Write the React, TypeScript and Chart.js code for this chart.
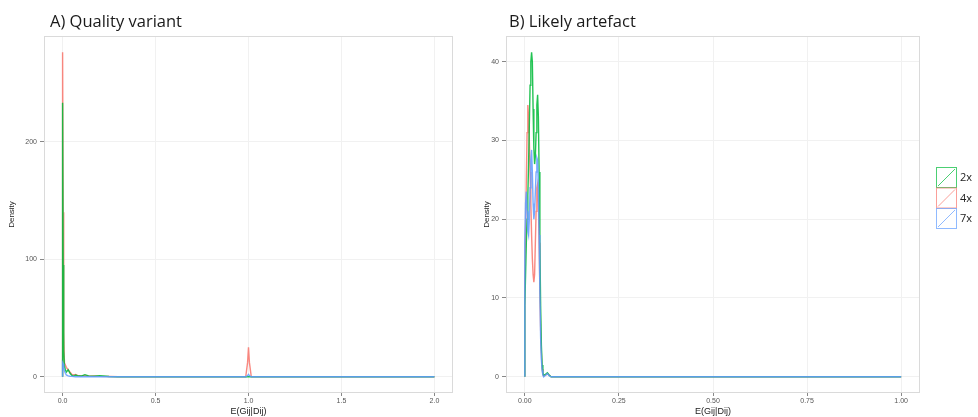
import React, { useEffect, useRef } from "react";
import { Chart, registerables } from "chart.js";

Chart.register(...registerables);

// ---------- data ----------
const seriesNames = ["2x", "4x", "7x"];
const seriesColors = ["#00BA38", "#F8766D", "#619CFF"];
const drawOrder = [1, 2, 0]; // lower = drawn on top (blue top, red bottom)

// Panel A: Quality variant
const titleA = "A) Quality variant";
const xA = [0, 0, 0.003, 0.006, 0.01, 0.015, 0.02, 0.03, 0.04, 0.05, 0.06, 0.07, 0.08, 0.1, 0.12, 0.14, 0.17, 0.2, 0.25, 0.3, 0.5, 0.985, 0.995, 1.0, 1.005, 1.015, 1.5, 2.0];
const a2x = [0, 233, 95, 22, 9, 6, 4, 6, 3, 1.2, 0.6, 1.5, 1, 0.6, 1.8, 0.8, 0.4, 1, 0.2, 0, 0, 0, 0, 0, 0, 0, 0, 0];
const a4x = [0, 276, 140, 38, 12, 10, 8, 6, 4, 2, 1.5, 2, 1.2, 0.8, 1.2, 0.5, 0.8, 0.5, 0.2, 0, 0, 0, 12, 25, 12, 0, 0, 0];
const a7x = [0, 12, 11, 8, 5, 3, 1.5, 0.8, 0.5, 0.3, 0.2, 0, 0, 0, 0, 0, 0, 0, 0, 0, 0, 0, 1, 2, 1, 0, 0, 0];
const xTicksA = [0, 0.5, 1, 1.5, 2];
const yTicksA = [0, 100, 200];

// Panel B: Likely artefact
const titleB = "B) Likely artefact";
const xB = [0, 0, 0.002, 0.004, 0.006, 0.008, 0.01, 0.012, 0.014, 0.016, 0.018, 0.02, 0.022, 0.024, 0.026, 0.028, 0.03, 0.032, 0.034, 0.036, 0.038, 0.04, 0.042, 0.044, 0.046, 0.048, 0.05, 0.055, 0.06, 0.065, 0.07, 0.1, 0.5, 1.0];
const b2x = [0, 9, 13, 17, 20, 23, 27, 32, 37, 40, 41.2, 40, 34, 29, 27, 28, 31, 34.5, 35.8, 33, 26, 17, 9, 4, 1.5, 0.5, 0.2, 0.3, 0.5, 0.2, 0, 0, 0, 0];
const b4x = [0, 12, 18, 25, 31, 34.5, 33, 30, 26, 22, 18, 15, 13, 12, 13, 17, 21, 24, 24.5, 22, 17, 11, 6, 3, 1, 0.3, 0.1, 0.2, 0.4, 0.2, 0, 0, 0, 0];
const b7x = [0, 17, 22, 23.5, 21, 18.5, 18, 20, 24, 27.5, 28.8, 26, 22, 20, 21, 23.5, 26, 27.8, 27.5, 24, 18, 11, 5, 2.2, 0.8, 0.2, 0, 0.2, 0.4, 0.1, 0, 0, 0, 0];
const xTicksB = [0, 0.25, 0.5, 0.75, 1];
const yTicksB = [0, 10, 20, 30, 40];

const xLabel = "E(Gij|Dij)";
const yLabel = "Density";

// ---------- plugins ----------
const panelPlugin = {
  id: "panelDeco",
  beforeDatasetsDraw(chart: any) {
    const { ctx, chartArea: a } = chart;
    ctx.save();
    ctx.strokeStyle = "#dadada";
    ctx.lineWidth = 1;
    ctx.strokeRect(Math.round(a.left) + 0.5, Math.round(a.top) + 0.5, Math.round(a.right - a.left) - 1, Math.round(a.bottom - a.top) - 1);
    ctx.restore();
  },
  afterDraw(chart: any, _args: any, opts: any) {
    const { ctx, chartArea: a } = chart;
    ctx.save();
    if (opts.title) {
      ctx.fillStyle = "#1a1a1a";
      ctx.font = "16.5px 'Open Sans', sans-serif";
      ctx.textBaseline = "middle";
      ctx.textAlign = "left";
      ctx.fillText(opts.title, a.left + opts.titleDx, 22);
    }
    if (opts.legend) {
      const x0 = a.right + 16;
      const box = 20;
      const step = 20.5;
      const y0 = 167;
      seriesNames.forEach((name, i) => {
        const y = y0 + i * step;
        ctx.globalAlpha = 0.7;
        ctx.strokeStyle = seriesColors[i];
        ctx.lineWidth = 1;
        ctx.strokeRect(x0 + 0.5, y + 0.5, box, box);
        ctx.beginPath();
        ctx.moveTo(x0 + 2, y + box - 1);
        ctx.lineTo(x0 + box - 1, y + 2);
        ctx.stroke();
        ctx.globalAlpha = 1;
        ctx.fillStyle = "#222";
        ctx.font = "11px 'Open Sans', sans-serif";
        ctx.textBaseline = "middle";
        ctx.textAlign = "left";
        ctx.fillText(name, x0 + box + 4, y + box / 2 + 1);
      });
    }
    ctx.restore();
  },
};

function buildDatasets(xs: number[], ys: number[][]) {
  return seriesNames.map((name, i) => ({
    label: name,
    data: xs.map((x, j) => ({ x, y: ys[i][j] })),
    borderColor: seriesColors[i] + "dd",
    backgroundColor: seriesColors[i],
    borderWidth: 1.4,
    pointRadius: 0,
    tension: 0,
    fill: false,
    order: drawOrder[i],
  }));
}

function buildConfig(p: {
  title: string; titleDx: number; legend: boolean;
  xs: number[]; ys: number[][];
  xTicks: number[]; yTicks: number[]; xDigits: number;
  xMin: number; xMax: number; yMin: number; yMax: number;
  yWidth: number; padRight: number;
}): any {
  const tickFont = { family: "'Liberation Sans', Arial, sans-serif", size: 7 };
  return {
    type: "line",
    data: { datasets: buildDatasets(p.xs, p.ys) },
    options: {
      animation: false,
      responsive: false,
      maintainAspectRatio: false,
      layout: { padding: { top: 36, right: p.padRight, left: 0, bottom: 0 } },
      plugins: {
        legend: { display: false },
        tooltip: { enabled: false },
        panelDeco: { title: p.title, titleDx: p.titleDx, legend: p.legend },
      },
      scales: {
        x: {
          type: "linear",
          min: p.xMin,
          max: p.xMax,
          afterBuildTicks: (s: any) => { s.ticks = p.xTicks.map((v) => ({ value: v })); },
          afterFit: (s: any) => { s.height = 24; },
          ticks: {
            font: tickFont,
            color: "#555",
            padding: 1,
            maxRotation: 0,
            autoSkip: false,
            callback: (v: any) => Number(v).toFixed(p.xDigits),
          },
          grid: { color: "#f1f1f1", tickColor: "#888", tickLength: 3, drawTicks: true },
          border: { display: false },
          title: {
            display: true,
            text: xLabel,
            color: "#222",
            font: { family: "'Liberation Sans', Arial, sans-serif", size: 9 },
            padding: { top: 0, bottom: 0 },
          },
        },
        y: {
          type: "linear",
          min: p.yMin,
          max: p.yMax,
          afterBuildTicks: (s: any) => { s.ticks = p.yTicks.map((v) => ({ value: v })); },
          afterFit: (s: any) => { s.width = p.yWidth; },
          ticks: {
            font: tickFont,
            color: "#555",
            padding: 3,
            autoSkip: false,
            callback: (v: any) => String(v),
          },
          grid: { color: "#f1f1f1", tickColor: "#888", tickLength: 4, drawTicks: true },
          border: { display: false },
          title: {
            display: true,
            text: yLabel,
            color: "#222",
            font: { family: "'Liberation Sans', Arial, sans-serif", size: 8 },
            padding: { top: 7, bottom: 0 },
          },
        },
      },
    },
    plugins: [panelPlugin],
  };
}

function Panel(props: { width: number; config: any }) {
  const ref = useRef<HTMLCanvasElement | null>(null);
  useEffect(() => {
    if (!ref.current) return;
    const chart = new Chart(ref.current, props.config);
    return () => chart.destroy();
  }, []);
  return <canvas ref={ref} width={props.width} height={417} style={{ display: "block", width: props.width, height: 417 }} />;
}

export default function App() {
  const cfgA = buildConfig({
    title: titleA, titleDx: 6, legend: false,
    xs: xA, ys: [a2x, a4x, a7x],
    xTicks: xTicksA, yTicks: yTicksA, xDigits: 1,
    xMin: -0.1, xMax: 2.1, yMin: -13.8, yMax: 289.8,
    yWidth: 44, padRight: 22,
  });
  const cfgB = buildConfig({
    title: titleB, titleDx: 3, legend: true,
    xs: xB, ys: [b2x, b4x, b7x],
    xTicks: xTicksB, yTicks: yTicksB, xDigits: 2,
    xMin: -0.05, xMax: 1.05, yMin: -2.06, yMax: 43.26,
    yWidth: 31, padRight: 58,
  });
  return (
    <div style={{ position: "absolute", left: 0, top: 0, width: 978, height: 417, background: "#fff", display: "flex" }}>
      <Panel width={475} config={cfgA} />
      <Panel width={503} config={cfgB} />
    </div>
  );
}
